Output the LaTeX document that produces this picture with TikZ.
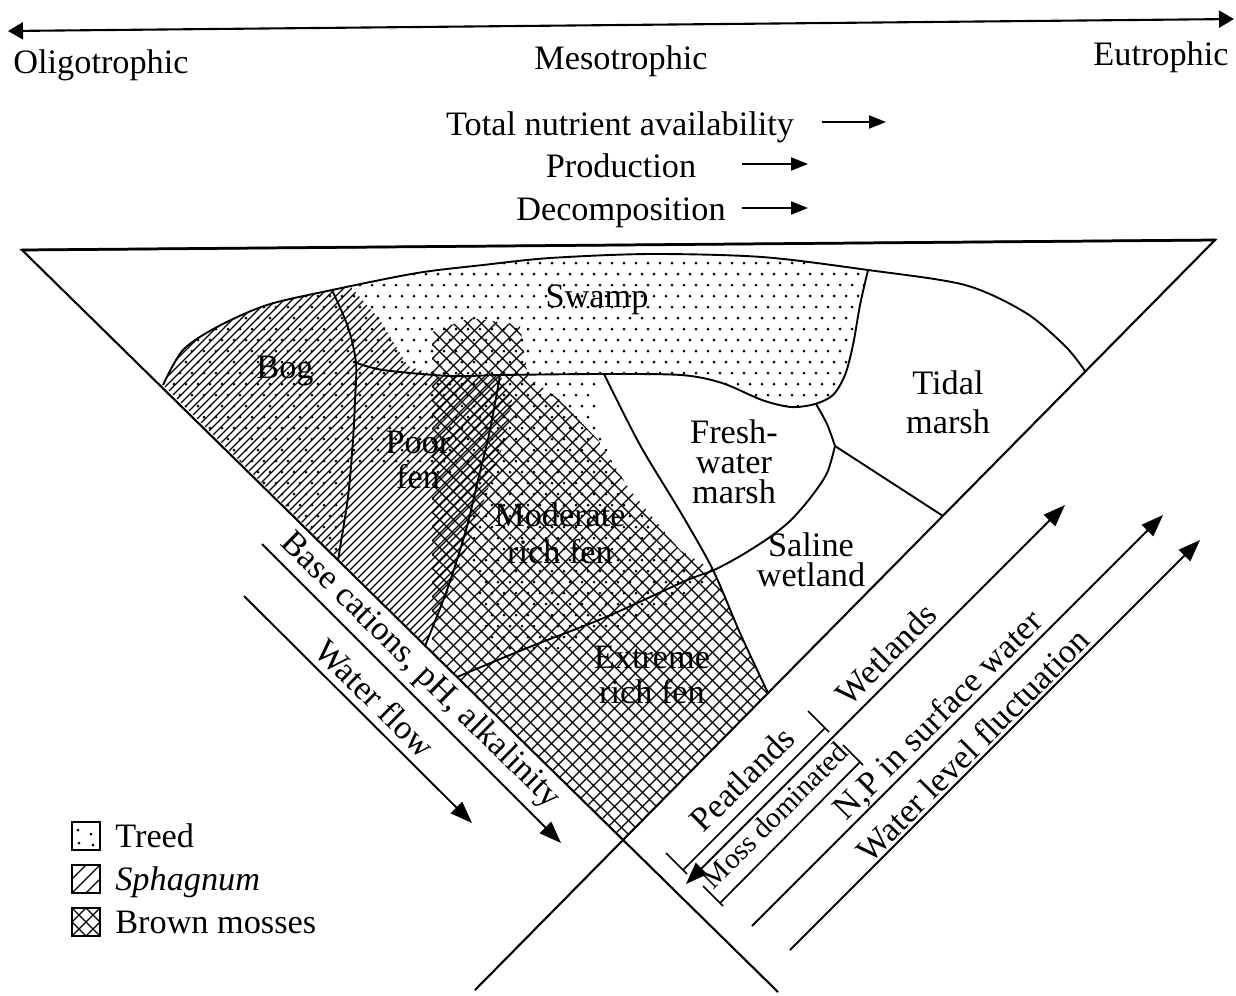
\documentclass[tikz,border=0pt]{standalone}
\usepackage{fontspec}
\setmainfont{Liberation Serif}
\usetikzlibrary{arrows.meta}

\tikzset{
    tririm/.style={line width=0.42mm},
    bound/.style={line width=0.38mm},
    hatchline/.style={line width=0.25mm},
    meshline/.style={line width=0.27mm},
    lbl/.style={font=\fontsize{19.5}{20}\selectfont, align=center, inner sep=0pt},
    bigtip/.style={line width=0.38mm, -{Triangle[length=4.4mm,width=3.2mm]}},
    smalltip/.style={line width=0.4mm, -{Triangle[length=3.4mm,width=2.6mm]}},
}

\begin{document}
\begin{tikzpicture}[x=0.2mm, y=-0.2mm]
    \useasboundingbox (0,0) rectangle (1236,995);

    % trophic gradient
    \coordinate (olig) at (8,31);
    \coordinate (eutr) at (1234,19);
    \draw[line width=0.42mm, {Triangle[length=3mm,width=3.4mm]}-{Triangle[length=3mm,width=3.4mm]}] (olig) -- (eutr);
    \node[lbl, anchor=base] (oligo) at (101,73) {Oligotrophic};
    \node[lbl, anchor=base] (meso) at (621,69) {Mesotrophic};
    \node[lbl, anchor=base] (eutro) at (1161,65) {Eutrophic};

    \node[lbl, anchor=base] (nutr) at (620,135) {Total nutrient availability};
    \node[lbl, anchor=base] (prod) at (621,177) {Production};
    \node[lbl, anchor=base] (decomp) at (621,220) {Decomposition};
    \coordinate (nutrA) at (822,122);
    \coordinate (nutrB) at (886,122);
    \coordinate (prodA) at (742,164);
    \coordinate (prodB) at (808,164);
    \coordinate (decompA) at (742,208);
    \coordinate (decompB) at (808,208);
    \draw[smalltip] (nutrA) -- (nutrB);
    \draw[smalltip] (prodA) -- (prodB);
    \draw[smalltip] (decompA) -- (decompB);

    % triangle corners
    \coordinate (tl) at (22,250);
    \coordinate (tr) at (1215,240);
    \coordinate (apex) at (623,840);
    \coordinate (lend) at (778,992);
    \coordinate (rend) at (475,990);

    % vegetation patterns, kept inside the wetland outline
    \begin{scope}
        \clip plot[smooth] coordinates {(163,385) (183,350) (217,327) (267,305) (332,290) (417,273) (483,265) (550,258) (650,254) (762,257) (868,270) (965,285) (1026,313) (1066,347) (1085,371)} -- (apex) -- cycle;

        % treed
        \begin{scope}
            \clip (100,240) -- (875,240) -- (868,270) -- (860,305) -- (853,345) -- (845,375) -- (833,395) -- (815,404) -- (791,407) -- (762,400) -- (722,383) -- (681,375) -- (595,374) -- (598,420) -- (618,480) -- (660,540) -- (705,583) -- (640,622) -- (560,652) -- (490,652) -- (470,560) -- (470,480) -- (400,470) -- (352,465) -- (348,497) -- (338,560) -- (100,560) -- cycle;
            \foreach \j in {0,...,39} {
                \foreach \i in {0,...,62} {
                    \fill ({150+12*\i+6*mod(\j,2)},{252+11*\j}) circle[radius=0.3mm];
                }
            }
        \end{scope}

        % sphagnum
        \begin{scope}
            \clip (100,240) -- (345,280) -- (380,320) -- (408,366) -- (440,377) -- (500,375) -- (512,400) -- (505,440) -- (470,540) -- (425,646) -- (100,646) -- cycle;
            \foreach \c in {400,408,...,1176}
                \draw[hatchline] (\c-660,660) -- (\c-240,240);
        \end{scope}

        % brown mosses
        \begin{scope}
            \clip (432,332) -- (470,318) -- (520,325) -- (528,377) -- (560,400) -- (598,440) -- (630,490) -- (680,550) -- (713,570) -- (740,633) -- (768,693) -- (700,900) -- (432,900) -- cycle;
            \foreach \c in {735,749,...,1625}
                \draw[meshline] (\c-860,860) -- (\c-300,300);
            \foreach \d in {-430,-416,...,470}
                \draw[meshline] (\d+300,300) -- (\d+860,860);
        \end{scope}
    \end{scope}

    % region boundaries
    \draw[bound] plot[smooth] coordinates {(163,385) (183,350) (217,327) (267,305) (332,290) (417,273) (483,265) (550,258) (650,254) (762,257) (868,270) (965,285) (1026,313) (1066,347) (1085,371)};
    \draw[bound] plot[smooth] coordinates {(332,290) (348,327) (356,363) (355,400) (353,440) (348,497) (338,560)};
    \draw[bound] plot[smooth] coordinates {(354,362) (383,370) (450,376) (500,375) (600,374) (681,375) (722,383) (762,400) (791,407) (815,404) (833,395) (845,375) (853,345) (860,305) (868,270)};
    \draw[bound] plot[smooth] coordinates {(500,375) (490,430) (478,480) (466,530) (447,590) (425,646)};
    \draw[bound] plot[smooth] coordinates {(604,374) (640,445) (681,513) (713,570) (740,633) (768,693)};
    \draw[bound] plot[smooth] coordinates {(816,404) (827,424) (835,446)};
    \draw[bound] plot[smooth] coordinates {(835,446) (827,473) (811,497) (791,520) (770,537) (742,555) (714,570) (685,581) (606,617) (527,648) (457,677)};
    \draw[bound] (835,446) -- (943,516);

    % triangle
    \draw[tririm] (lend) -- (tl) -- (tr) -- (rend);
    \draw[line width=0.55mm] (tl) -- (tr);

    % region names
    \node[lbl] (bog) at (285,371) {Bog};
    \node[lbl] (swamp) at (597,300) {Swamp};
    \node[lbl] (poorfen) at (418,460) {Poor\\fen};
    \node[lbl] (modfen) at (560,533) {Moderate\\[1pt]rich fen};
    \node[lbl] (extfen) at (652,675) {Extreme\\rich fen};
    \node[lbl] (fresh) at (734,462) {Fresh-\\[-3pt]water\\[-3pt]marsh};
    \node[lbl] (tidal) at (948,402) {Tidal\\[2pt]marsh};
    \node[lbl] (saline) at (811,560) {Saline\\[-3pt]wetland};

    % gradients along the left side
    \coordinate (baseA) at (262,544);
    \coordinate (baseB) at (561,843);
    \coordinate (flowA) at (244,596);
    \coordinate (flowB) at (472,823);
    \draw[bigtip] (baseA) -- (baseB);
    \draw[bigtip] (flowA) -- (flowB);
    \node[lbl, rotate=-44.5] (basecat) at (420,671) {Base cations, pH, alkalinity};
    \node[lbl, rotate=-44.5] (flow) at (375,698) {Water flow};

    % gradients along the right side
    \coordinate (wetA) at (686,884);
    \coordinate (wetB) at (1065,505);
    \coordinate (npA) at (752,926);
    \coordinate (npB) at (1163,515);
    \coordinate (wlfA) at (790,950);
    \coordinate (wlfB) at (1200,540);
    \draw[line width=0.38mm, {Triangle[length=4.4mm,width=3.2mm]}-{Triangle[length=4.4mm,width=3.2mm]}] (wetA) -- (wetB);
    \draw[bigtip] (npA) -- (npB);
    \draw[bigtip] (wlfA) -- (wlfB);

    % brackets
    \coordinate (peatA) at (683,870);
    \coordinate (peatB) at (825,728);
    \coordinate (mossA) at (720,903);
    \coordinate (mossB) at (860,762);
    \draw[line width=0.34mm] (666,853) -- (687,874) (peatA) -- (peatB) (808,711) -- (829,732);
    \draw[line width=0.34mm] (703,886) -- (723,906) (mossA) -- (mossB) (843,745) -- (863,765);

    \node[lbl, rotate=45] (peat) at (742,779) {Peatlands};
    \node[lbl, rotate=45] (wet) at (886,654) {Wetlands};
    \node[lbl, rotate=45, font=\fontsize{16.5}{18}\selectfont] (moss) at (775,815) {Moss dominated};
    \node[lbl, rotate=45] (np) at (939,716) {N,P in surface water};
    \node[lbl, rotate=45] (wlf) at (973,745) {Water level fluctuation};

    % legend
    \draw[line width=0.3mm] (72,822) rectangle (100,850);
    \fill (78,830) circle[radius=0.3mm] (79,843) circle[radius=0.3mm] (91,834) circle[radius=0.3mm] (93,845) circle[radius=0.3mm];
    \draw[line width=0.3mm] (72,865) rectangle (100,893);
    \begin{scope}
        \clip (72,865) rectangle (100,893);
        \foreach \c in {951,965,979}
            \draw[hatchline] (\c-893,893) -- (\c-865,865);
    \end{scope}
    \draw[line width=0.3mm] (72,908) rectangle (100,936);
    \draw[hatchline] (72,908) -- (100,936) (72,936) -- (100,908) (86,908) -- (100,922) -- (86,936) -- (72,922) -- cycle;
    \node[lbl, anchor=base west] (treed) at (115,847) {Treed};
    \node[lbl, anchor=base west] (sphag) at (115,890) {\itshape Sphagnum};
    \node[lbl, anchor=base west] (brown) at (115,933) {Brown mosses};
\end{tikzpicture}
\end{document}
